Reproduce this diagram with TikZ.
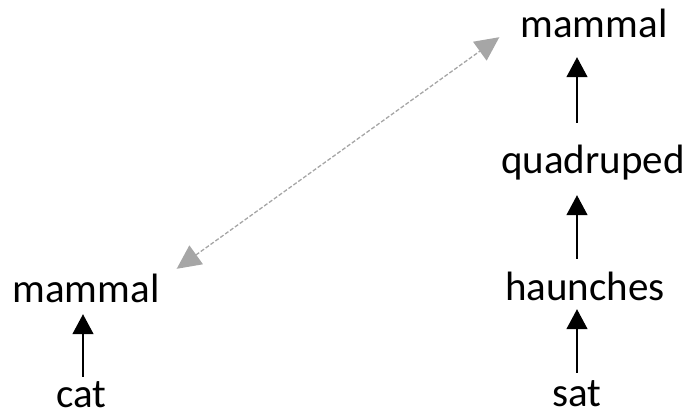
\documentclass[tikz,border=0pt]{standalone}
\usepackage{fontspec}
\setmainfont{Carlito}
\usetikzlibrary{arrows.meta,calc}
\definecolor{linkgray}{RGB}{166,166,166}
\tikzset{
  word/.style={anchor=base, inner sep=0pt, text height=29pt, text depth=9pt,
    font=\fontsize{41}{48}\selectfont},
  isa/.style={draw=black, line width=1.5pt,
    -{Triangle[width=21pt,length=20pt]}},
  link/.style={draw=linkgray, line width=1.3pt, dash pattern=on 4pt off 2pt,
    {Triangle[width=23pt,length=24pt]}-{Triangle[width=23pt,length=24pt]}}
}
\begin{document}
\begin{tikzpicture}[x=1pt,y=-1pt]
\useasboundingbox (0,0) rectangle (688,416);

% left chain
\node[word] (cat) at (81,407) {cat};
\node[word] (mL)  at (86,302) {mammal};

% right chain
\node[word] (sat)  at (577,406) {sat};
\node[word] (haun) at (585,300) {haunches};
\node[word] (quad) at (593,173) {quadruped};
\node[word] (mT)   at (594,37)  {mammal};

% hypernym arrows
\draw[isa, shorten <=1pt, shorten >=3pt] ([xshift=2pt]cat.north) -- ([xshift=2pt]cat.north |- mL.south);
\draw[isa, shorten <=4pt, shorten >=0pt] (sat.north) -- (sat.north |- haun.south);
\draw[isa, shorten <=12pt, shorten >=13pt] (sat.north |- haun.north) -- (sat.north |- quad.south);
\draw[isa, shorten <=21pt, shorten >=11pt] (sat.north |- quad.north) -- (sat.north |- mT.south);

% link between the two mammal nodes
\draw[link] ($(mL.north east)+(17,-4)$) -- ($(mT.south west)+(-21,-9)$);
\end{tikzpicture}
\end{document}
